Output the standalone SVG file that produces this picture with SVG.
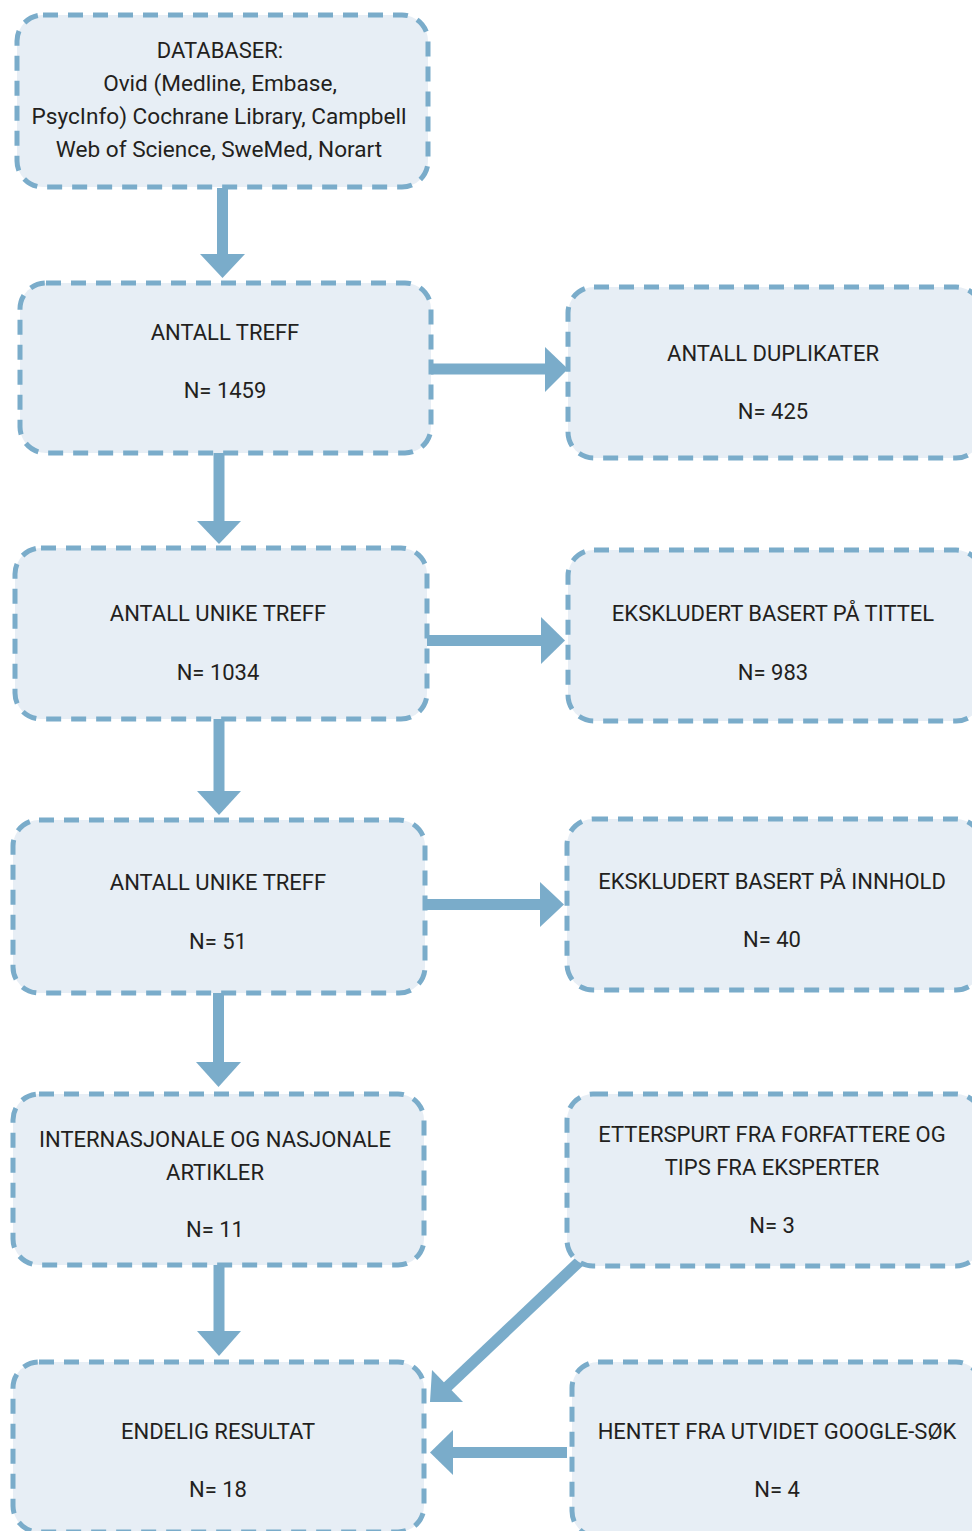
<svg xmlns="http://www.w3.org/2000/svg" width="972" height="1531" viewBox="0 0 972 1531">
<style>
.box{fill:#e7eef5;stroke:#7aacca;stroke-width:5;stroke-dasharray:15 10}
.t{font-family:Roboto,"Liberation Sans",sans-serif;font-size:22px;fill:#231f20;text-anchor:middle}
.l{font-size:22.6px}
.sh{stroke:#7aacca;stroke-width:11;fill:none}
.hd{fill:#7aacca}
</style>
<rect width="972" height="1531" fill="#ffffff"/>
<g id="connectors">
<line class="sh" x1="222.5" y1="188" x2="222.5" y2="255"/><polygon class="hd" points="200,254 245,254 222.5,278"/>
<line class="sh" x1="431" y1="369" x2="546" y2="369"/><polygon class="hd" points="545,347 545,392 568,369"/>
<line class="sh" x1="219" y1="453" x2="219" y2="522"/><polygon class="hd" points="197,521 241,521 219,544"/>
<line class="sh" x1="427" y1="640.5" x2="542" y2="640.5"/><polygon class="hd" points="541,617 541,664 565,640.5"/>
<line class="sh" x1="219" y1="719" x2="219" y2="792"/><polygon class="hd" points="197,791 241,791 219,815"/>
<line class="sh" x1="425" y1="904.5" x2="541" y2="904.5"/><polygon class="hd" points="540,882 540,927 564,904.5"/>
<line class="sh" x1="218.5" y1="993" x2="218.5" y2="1063"/><polygon class="hd" points="196,1062 241,1062 218.5,1087"/>
<line class="sh" x1="219" y1="1265" x2="219" y2="1332"/><polygon class="hd" points="197,1331 241,1331 219,1356"/>
<line class="sh" x1="580" y1="1261" x2="447" y2="1387"/><polygon class="hd" points="430,1402 463,1402 432,1370"/>
<line class="sh" x1="567" y1="1452.5" x2="452" y2="1452.5"/><polygon class="hd" points="453,1430 453,1475 430,1452.5"/>
</g>
<g id="databaser">
<rect class="box" x="17" y="15" width="411" height="172" rx="26"/>
<text class="t" x="220" y="58">DATABASER:</text>
<text class="t l" x="220" y="91">Ovid (Medline, Embase,</text>
<text class="t l" x="219" y="124">PsycInfo) Cochrane Library, Campbell</text>
<text class="t l" x="219" y="157">Web of Science, SweMed, Norart</text>
</g>
<g id="antall-treff">
<rect class="box" x="20" y="283" width="411" height="170" rx="26"/>
<text class="t" x="225" y="340">ANTALL TREFF</text>
<text class="t" x="225" y="398">N= 1459</text>
</g>
<g id="duplikater">
<rect class="box" x="568" y="287" width="414" height="171" rx="26"/>
<text class="t" x="773" y="361">ANTALL DUPLIKATER</text>
<text class="t" x="773" y="419">N= 425</text>
</g>
<g id="unike-1034">
<rect class="box" x="15" y="548" width="412" height="171" rx="26"/>
<text class="t" x="218" y="621">ANTALL UNIKE TREFF</text>
<text class="t" x="218" y="680">N= 1034</text>
</g>
<g id="tittel">
<rect class="box" x="568" y="550" width="414" height="171" rx="26"/>
<text class="t" x="773" y="621">EKSKLUDERT BASERT PÅ TITTEL</text>
<text class="t" x="773" y="680">N= 983</text>
</g>
<g id="unike-51">
<rect class="box" x="13" y="820" width="412" height="173" rx="26"/>
<text class="t" x="218" y="890">ANTALL UNIKE TREFF</text>
<text class="t" x="218" y="949">N= 51</text>
</g>
<g id="innhold">
<rect class="box" x="567" y="819" width="415" height="171" rx="26"/>
<text class="t" x="772" y="889">EKSKLUDERT BASERT PÅ INNHOLD</text>
<text class="t" x="772" y="947">N= 40</text>
</g>
<g id="artikler">
<rect class="box" x="13" y="1094" width="411" height="171" rx="26"/>
<text class="t" x="215" y="1147">INTERNASJONALE OG NASJONALE</text>
<text class="t" x="215" y="1180">ARTIKLER</text>
<text class="t" x="215" y="1237">N= 11</text>
</g>
<g id="etterspurt">
<rect class="box" x="567" y="1094" width="415" height="172" rx="26"/>
<text class="t" x="772" y="1142">ETTERSPURT FRA FORFATTERE OG</text>
<text class="t" x="772" y="1175">TIPS FRA EKSPERTER</text>
<text class="t" x="772" y="1233">N= 3</text>
</g>
<g id="endelig">
<rect class="box" x="13" y="1362" width="411" height="170" rx="26"/>
<text class="t" x="218" y="1439">ENDELIG RESULTAT</text>
<text class="t" x="218" y="1497">N= 18</text>
</g>
<g id="google">
<rect class="box" x="572" y="1362" width="410" height="175" rx="26"/>
<text class="t" x="777" y="1439">HENTET FRA UTVIDET GOOGLE-SØK</text>
<text class="t" x="777" y="1497">N= 4</text>
</g>
</svg>
